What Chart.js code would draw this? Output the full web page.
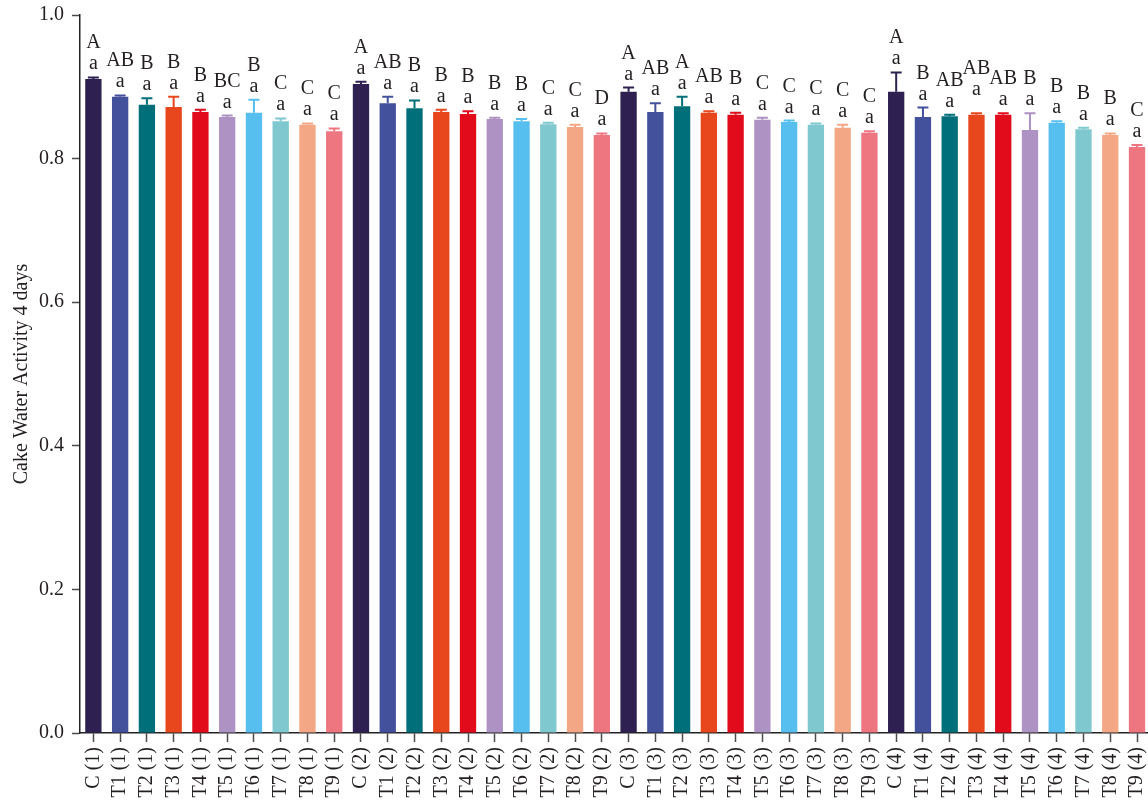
<!DOCTYPE html>
<html>
<head>
<meta charset="utf-8">
<script src="https://cdn.jsdelivr.net/npm/chart.js@4.4.1/dist/chart.umd.min.js"></script>
<style>
  html, body { margin: 0; padding: 0; background: #ffffff; overflow: hidden; }
  #wrap { position: relative; width: 1152px; height: 801px; }
</style>
</head>
<body>
<div id="wrap"><canvas id="chart"></canvas></div>
<script>
// Treatments and storage groups
const treatments = ['C', 'T1', 'T2', 'T3', 'T4', 'T5', 'T6', 'T7', 'T8', 'T9'];
const groups = ['1', '2', '3', '4'];
const categories = groups.flatMap(g => treatments.map(t => t + ' (' + g + ')'));

// Mean water activity after 4 days
const means = [
  0.911, 0.886, 0.875, 0.872, 0.865, 0.858, 0.864, 0.852, 0.847, 0.838,
  0.904, 0.877, 0.870, 0.865, 0.862, 0.855, 0.852, 0.848, 0.844, 0.833,
  0.893, 0.865, 0.873, 0.864, 0.861, 0.854, 0.851, 0.847, 0.843, 0.836,
  0.893, 0.858, 0.859, 0.861, 0.861, 0.840, 0.850, 0.841, 0.833, 0.816
];

// Standard deviations (upper error bars)
const errors = [
  0.002, 0.002, 0.009, 0.014, 0.003, 0.002, 0.018, 0.004, 0.002, 0.004,
  0.003, 0.009, 0.011, 0.003, 0.004, 0.002, 0.003, 0.002, 0.003, 0.002,
  0.006, 0.012, 0.013, 0.002, 0.003, 0.003, 0.002, 0.002, 0.004, 0.002,
  0.027, 0.013, 0.002, 0.002, 0.002, 0.023, 0.002, 0.002, 0.002, 0.003
];

// Significance letters (treatment / storage)
const upperLetters = [
  'A', 'AB', 'B', 'B', 'B', 'BC', 'B', 'C', 'C', 'C',
  'A', 'AB', 'B', 'B', 'B', 'B', 'B', 'C', 'C', 'D',
  'A', 'AB', 'A', 'AB', 'B', 'C', 'C', 'C', 'C', 'C',
  'A', 'B', 'AB', 'AB', 'AB', 'B', 'B', 'B', 'B', 'C'
];
const lowerLetters = categories.map(() => 'a');

const yTicks = [0.0, 0.2, 0.4, 0.6, 0.8, 1.0];

const palette = ['#2e2152', '#43519d', '#006f7a', '#e8461c', '#e20b1c',
                 '#ae92c3', '#57bfef', '#7fc8d0', '#f4a784', '#ee7680'];
const barColors = categories.map((_, i) => palette[i % palette.length]);

const SERIF = '"Liberation Serif", "DejaVu Serif", serif';
const INK = '#231f20';

const annotatePlugin = {
  id: 'errorAndLetters',
  afterDatasetsDraw(chart) {
    const ctx = chart.ctx;
    const meta = chart.getDatasetMeta(0);
    const y = chart.scales.y;
    ctx.save();
    ctx.font = '20px ' + SERIF;
    let prev = null;
    meta.data.forEach((bar, i) => {
      const x = bar.x;
      const top = y.getPixelForValue(means[i] + errors[i]);
      const color = barColors[i];
      // upper error bar with cap
      ctx.strokeStyle = color;
      ctx.lineWidth = 2;
      ctx.beginPath();
      ctx.moveTo(x, bar.y);
      ctx.lineTo(x, top);
      ctx.moveTo(x - 5.5, top);
      ctx.lineTo(x + 5.5, top);
      ctx.stroke();

      // letters, staggered upward when they would touch the neighbour
      const w = ctx.measureText(upperLetters[i]).width;
      let lift = 0;
      if (prev && !prev.lifted &&
          Math.abs(x - prev.x) < (w + prev.w) / 2 + 1 &&
          Math.abs(top - prev.top) < 20) {
        lift = 10;
      }
      const base = top - 8 - lift;
      ctx.fillStyle = INK;
      ctx.textAlign = 'center';
      ctx.textBaseline = 'alphabetic';
      ctx.fillText(lowerLetters[i], x, base);
      ctx.fillText(upperLetters[i], x, base - 21);
      prev = { x, w, top, lifted: lift > 0 };
    });
    ctx.restore();
  }
};

new Chart(document.getElementById('chart'), {
  type: 'bar',
  data: {
    labels: categories,
    datasets: [{
      data: means,
      backgroundColor: barColors,
      borderWidth: 0,
      barPercentage: 0.61,
      categoryPercentage: 1.0
    }]
  },
  options: {
    responsive: true,
    maintainAspectRatio: false,
    animation: false,
    events: [],
    layout: { padding: { top: 15, right: 1.6, left: 0, bottom: 0 } },
    plugins: {
      legend: { display: false },
      tooltip: { enabled: false }
    },
    scales: {
      x: {
        offset: true,
        grid: {
          display: true,
          drawOnChartArea: false,
          drawTicks: true,
          tickLength: 9,
          tickWidth: 1.5,
          tickColor: '#4a4a4a',
          offset: false
        },
        border: { display: true, color: '#222222', width: 1.5 },
        ticks: {
          autoSkip: false,
          maxRotation: 90,
          minRotation: 90,
          padding: 5,
          color: INK,
          font: { family: SERIF, size: 20 }
        },
        afterFit(scale) {
          scale.height = 68;
          scale.paddingLeft = 0;
          scale.paddingRight = 0;
        }
      },
      y: {
        min: 0,
        max: 1,
        afterBuildTicks(scale) {
          scale.ticks = yTicks.map(v => ({ value: v }));
        },
        grid: {
          display: true,
          drawOnChartArea: false,
          drawTicks: true,
          tickLength: 8,
          tickWidth: 1.5,
          tickColor: '#4a4a4a'
        },
        border: { display: true, color: '#222222', width: 1.5 },
        ticks: {
          padding: 8,
          color: INK,
          font: { family: SERIF, size: 20 },
          callback: v => Number(v).toFixed(1)
        },
        title: {
          display: true,
          text: 'Cake Water Activity 4 days',
          color: INK,
          font: { family: SERIF, size: 20 },
          padding: { top: 10, bottom: 0 }
        },
        afterFit(scale) {
          scale.width = 80;
          scale.paddingTop = 0;
          scale.paddingBottom = 0;
        }
      }
    }
  },
  plugins: [annotatePlugin]
});
</script>
</body>
</html>
